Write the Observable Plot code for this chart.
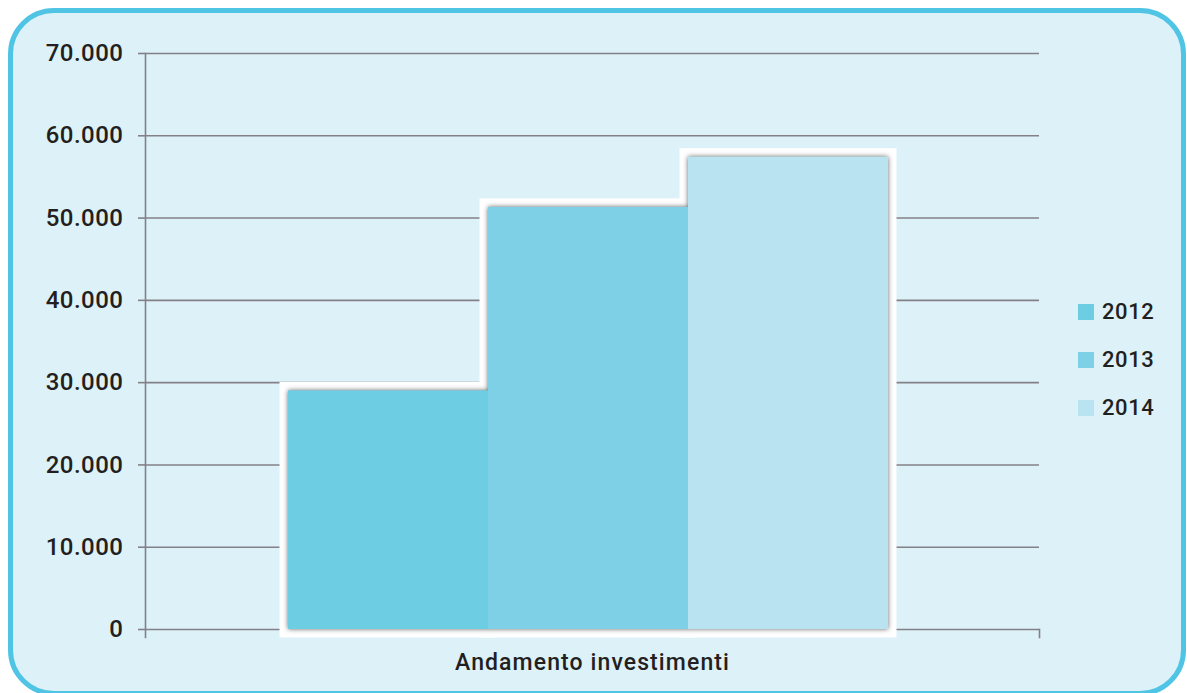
<!DOCTYPE html>
<html>
<head>
<meta charset="utf-8">
<script src="https://cdn.jsdelivr.net/npm/d3@7"></script>
<script src="https://cdn.jsdelivr.net/npm/@observablehq/plot@0.6"></script>
<style>
  html, body { margin: 0; padding: 0; background: #ffffff; }
  body { width: 1187px; height: 693px; overflow: hidden; position: relative;
         font-family: Roboto, "Liberation Sans", Arial, sans-serif; }
  #frame { position: absolute; left: 8px; top: 8px; width: 1178px; height: 688px;
           box-sizing: border-box; border: 5px solid #4fc4e4; border-radius: 46px;
           background: #ddf1f8; }
  #chart { position: absolute; left: 0; top: 0; }
  #legend { position: absolute; left: 1078px; top: 288px; }
  .item { display: flex; align-items: center; height: 48px; }
  .sw { width: 16px; height: 16px; margin-right: 8px; }
  .lab { font-size: 22px; font-weight: 500; color: #231f20; line-height: 1; letter-spacing: 0.6px; }
</style>
</head>
<body>
<div id="frame"></div>
<div id="chart"></div>
<div id="legend"></div>
<script>
const category = "Andamento investimenti";
const years = ["2012", "2013", "2014"];
const values = [29000, 51300, 57400];
const colors = ["#6dcde3", "#7dd0e5", "#b9e3f0"];
const yTicks = [0, 10000, 20000, 30000, 40000, 50000, 60000, 70000];

const data = years.map((year, i) => ({cat: category, year, value: values[i]}));
const fmt = d3.formatLocale({decimal: ",", thousands: ".", grouping: [3], currency: ["", "€"]}).format(",");

const gridColor = "#838187";
const chart = Plot.plot({
  width: 1187,
  height: 693,
  marginLeft: 145,
  marginRight: 148,
  marginTop: 53,
  marginBottom: 64,
  style: {background: "transparent", fontFamily: "Roboto, 'Liberation Sans', Arial, sans-serif", color: "#231f20"},
  fx: {domain: [category], paddingInner: 0, paddingOuter: 0, label: null},
  x: {domain: years, paddingInner: 0, paddingOuter: 0.735, align: 0.487, axis: null},
  y: {domain: [0, 70000], label: null},
  color: {domain: years, range: colors},
  marks: [
    Plot.gridY(yTicks, {stroke: gridColor, strokeOpacity: 1, strokeWidth: 1.6}),
    Plot.axisY(yTicks, {tickSize: 7, tickPadding: 15, tickFormat: fmt, fontSize: 24, fontWeight: 500,
                        stroke: gridColor, strokeWidth: 1.6, fill: "#231f20", label: null}),
    Plot.frame({anchor: "left", insetBottom: -8, stroke: gridColor, strokeWidth: 1.6}),
    Plot.frame({anchor: "right", insetTop: 576, insetBottom: -8, stroke: gridColor, strokeWidth: 1.6}),
    Plot.axisFx({anchor: "bottom", tickSize: 0, tickPadding: 24, fontSize: 23, fontWeight: 500,
                 fill: "#231f20", label: null}),
    Plot.barY(data, {fx: "cat", x: "year", y: "value", fill: "white", stroke: "white", strokeWidth: 17}),
    Plot.barY(data, {fx: "cat", x: "year", y: "value", fill: "year"})
  ]
});
document.getElementById("chart").appendChild(chart);
const barGroups = chart.querySelectorAll('g[aria-label="bar"]');
if (barGroups.length > 1) barGroups[1].style.filter = "drop-shadow(0px 0px 2.5px rgba(0,0,0,0.6))";
chart.querySelectorAll('g[aria-label="fx-axis tick label"] text').forEach(t => t.style.letterSpacing = "1.1px");
chart.querySelectorAll('g[aria-label="y-axis tick label"] text').forEach(t => t.style.letterSpacing = "0.5px");

const legend = document.getElementById("legend");
years.forEach((y, i) => {
  const item = document.createElement("div");
  item.className = "item";
  const sw = document.createElement("div");
  sw.className = "sw";
  sw.style.background = colors[i];
  const lab = document.createElement("span");
  lab.className = "lab";
  lab.textContent = y;
  item.appendChild(sw);
  item.appendChild(lab);
  legend.appendChild(item);
});
</script>
</body>
</html>
